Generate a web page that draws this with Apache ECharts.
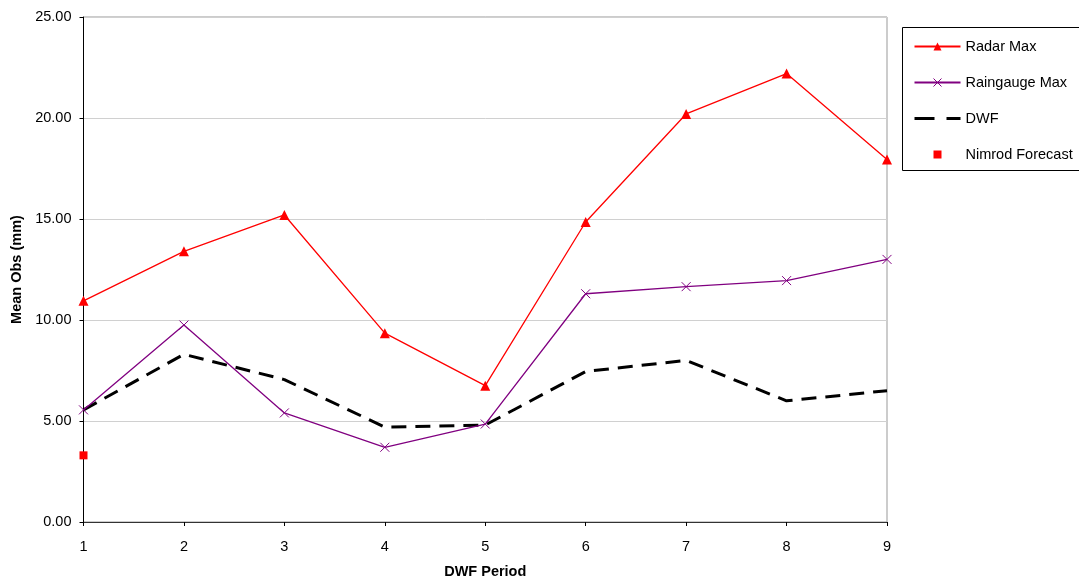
<!DOCTYPE html>
<html><head><meta charset="utf-8">
<script src="https://cdn.jsdelivr.net/npm/echarts@6/dist/echarts.min.js"></script>
<style>html,body{margin:0;padding:0;background:#fff}#c{width:1079px;height:581px}</style>
</head><body><div id="c"></div>
<script>
const categories = ['1','2','3','4','5','6','7','8','9'];
const radarMax = [10.95, 13.4, 15.2, 9.35, 6.75, 14.85, 20.2, 22.2, 17.95];
const raingaugeMax = [5.55, 9.75, 5.4, 3.7, 4.85, 11.3, 11.65, 11.95, 13.0];
const dwf = [5.55, 8.3, 7.05, 4.7, 4.8, 7.45, 8.0, 6.0, 6.5];
const nimrodForecast = [3.3, null, null, null, null, null, null, null, null];
const yTicks = [0, 5, 10, 15, 20, 25];

const chart = echarts.init(document.getElementById('c'));
const font = 'Liberation Sans, Arial, sans-serif';
const fs = 14.5;
const xPath = 'path://M0,0L10,10M10,0L0,10';
chart.setOption({
  animation: false,
  textStyle: {fontFamily: font},
  graphic: [{
    type: 'rect', shape: {x: 902.5, y: 27.5, width: 200, height: 143},
    style: {fill: '#fff', stroke: '#000', lineWidth: 1}, z: 0
  }],
  grid: {left: 83.5, right: 192, top: 17, bottom: 59, show: true, borderColor: '#999', borderWidth: 1,
    containLabel: false, outerBoundsMode: 'none'},
  legend: {
    orient: 'vertical', left: 908, top: 34, itemGap: 21, itemWidth: 46, itemHeight: 10,
    textStyle: {fontFamily: font, fontSize: fs, color: '#000'},
    data: [
      {name: 'Radar Max'},
      {name: 'Raingauge Max', itemStyle: {borderWidth: 1, borderColor: '#800080'}},
      {name: 'DWF', lineStyle: {type: [20, 12], width: 3}},
      {name: 'Nimrod Forecast'}
    ], z: 5
  },
  xAxis: {
    type: 'category', data: categories, boundaryGap: false,
    name: 'DWF Period', nameLocation: 'middle', nameGap: 42,
    nameTextStyle: {fontWeight: 'bold', fontSize: fs, color: '#000', fontFamily: font},
    axisLine: {lineStyle: {color: '#333', width: 1}},
    axisTick: {show: true, alignWithLabel: true, length: 4, lineStyle: {color: '#000'}},
    axisLabel: {color: '#000', fontSize: fs, margin: 17, fontFamily: font},
    splitLine: {show: false}
  },
  yAxis: {
    type: 'value', min: 0, max: 25, interval: 5,
    name: 'Mean Obs (mm)', nameLocation: 'middle', nameGap: 57, nameRotate: 90,
    nameTextStyle: {fontWeight: 'bold', fontSize: fs, color: '#000', fontFamily: font},
    axisLine: {show: true, lineStyle: {color: '#000', width: 1}},
    axisTick: {show: true, length: 4, lineStyle: {color: '#000'}},
    axisLabel: {color: '#000', fontSize: fs, margin: 12, fontFamily: font,
      formatter: v => yTicks.includes(v) ? v.toFixed(2) : ''},
    splitLine: {show: true, lineStyle: {color: '#d0d0d0', width: 1}}
  },
  series: [
    {name: 'Radar Max', type: 'line', data: radarMax, symbol: 'triangle', symbolSize: 10,
      itemStyle: {color: '#ff0000'}, lineStyle: {color: '#ff0000', width: 1.3}, z: 4},
    {name: 'Raingauge Max', type: 'line', data: raingaugeMax, symbol: xPath, symbolSize: 9,
      itemStyle: {color: '#800080', borderColor: '#800080', borderWidth: 1},
      lineStyle: {color: '#800080', width: 1.3}, z: 3},
    {name: 'DWF', type: 'line', data: dwf, symbol: 'path://M0,0L1,1', showSymbol: false,
      itemStyle: {color: '#000', borderWidth: 0}, lineStyle: {color: '#000', width: 3, type: [15, 9]}, z: 2},
    {name: 'Nimrod Forecast', type: 'line', data: nimrodForecast, symbol: 'rect', symbolSize: 8,
      showAllSymbol: true, itemStyle: {color: '#ff0000'}, lineStyle: {width: 0, opacity: 0}, z: 4}
  ]
});
</script></body></html>
